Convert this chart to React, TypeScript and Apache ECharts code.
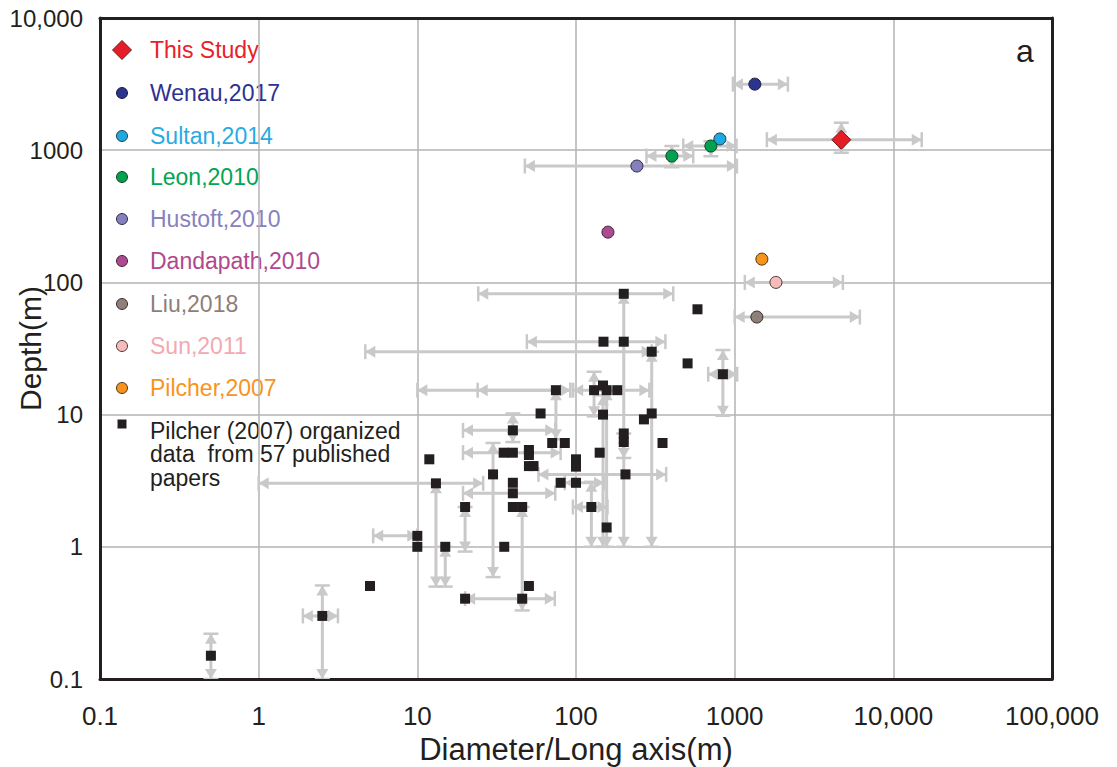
import React, { useEffect, useRef } from 'react';
import * as echarts from 'echarts';

// ---------- tick labels ----------
const xTickLabels = ['0.1', '1', '10', '100', '1000', '10,000', '100,000'];
const yTickLabels = ['0.1', '1', '10', '100', '1000', '10,000'];

// ---------- data: [diameter (m), depth (m)] ----------
const thisStudy = [[4700, 1200]];
const wenau2017 = [[1340, 3160]];
const sultan2014 = [[807, 1216]];
const leon2010 = [[708, 1076], [402, 904]];
const hustoft2010 = [[242, 759]];
const dandapath2010 = [[159, 240]];
const liu2018 = [[1380, 54.7]];
const sun2011 = [[1820, 100]];
const pilcher2007 = [[1484, 150]];
const pilcherCompiled = [
  [0.5, 0.15], [2.52, 0.3], [5.03, 0.505], [10, 1.0], [10, 1.21], [15, 1.0],
  [11.9, 4.59], [13.1, 3.02], [20, 2.0], [20, 0.405], [30, 3.53], [35.3, 1.0],
  [35, 5.15], [40, 5.15], [40, 7.6], [40, 3.05], [40, 2.54], [40, 2.0],
  [45.8, 2.0], [45.8, 0.405], [50.5, 0.505], [50.5, 5.4], [50.5, 4.95], [50.5, 4.08],
  [54, 4.08], [59.8, 10.2], [70.8, 6.1], [85, 6.1], [80, 3.05], [100, 3.05],
  [100, 4.59], [100, 4.04], [74.7, 15.3], [125, 2.0], [141, 5.15], [148, 10.0],
  [156, 1.4], [130, 15.3], [148, 16.6], [156, 15.3], [182, 15.3], [149, 35.6],
  [200, 35.6], [200, 82], [200, 7.2], [200, 6.2], [205, 3.53], [268, 9.2],
  [300, 10.2], [300, 29.9], [351, 6.1], [505, 24.4], [583, 62.6], [843, 20.2],
];

// ---------- error bars ----------
// horizontal: [depth, diameterLow, diameterHigh]
const xErrorBars = [
  [0.3, 1.9, 3.16], [1.21, 5.27, 10], [3.02, 1.0, 26], [0.405, 20, 73.5],
  [2.54, 19.4, 74], [7.6, 19.4, 74], [5.15, 19.4, 80], [15.3, 10, 92],
  [15.3, 24, 92], [15.3, 96, 290], [35.6, 49, 366], [29.9, 4.7, 300],
  [82, 24.2, 410], [3.53, 58, 370], [2.0, 95.6, 158], [3.05, 85, 150],
  [20.2, 681, 1037],
  [1200, 1596, 15100], [3160, 975, 2165], [904, 278, 548], [1076, 474, 1027],
  [759, 47.6, 1033], [100, 1159, 4808], [54.7, 1000, 6150],
];
// vertical: [diameter, depthLow, depthHigh]
const yErrorBars = [
  [0.5, 0.1, 0.22], [2.52, 0.1, 0.51], [13.1, 0.5, 3.02], [15, 0.5, 1.0],
  [20, 0.92, 2.0], [30, 0.59, 6.1], [40, 6.2, 10.2], [45.8, 0.33, 2.0],
  [74.7, 6.5, 15.3], [130, 9.7, 21.1], [125, 1.0, 3.1], [148, 1.0, 14],
  [156, 1.0, 15.3], [200, 1.0, 82], [200, 4.7, 7.2], [300, 1.0, 29.9],
  [843, 9.8, 30.8],
  [4700, 957, 1614], [708, 900, 1170], [402, 743, 1076],
];

const PILCHER_NAME = 'Pilcher (2007) organized data from 57 published papers';
const PILCHER_LINES = ['Pilcher (2007) organized', 'data  from 57 published', 'papers'];
const BAR_COLOR = '#c9c9c9';
const INK = '#231f20';

function makeBarRenderer(horizontal: boolean) {
  return (_params: any, api: any) => {
    const a = api.value(0);
    const lo = api.value(1);
    const hi = api.value(2);
    const p1 = horizontal ? api.coord([lo, a]) : api.coord([a, lo]);
    const p2 = horizontal ? api.coord([hi, a]) : api.coord([a, hi]);
    const dx = p2[0] - p1[0];
    const dy = p2[1] - p1[1];
    const len = Math.hypot(dx, dy) || 1;
    const ux = dx / len;
    const uy = dy / len;
    const nx = -uy;
    const ny = ux;
    const L = 10;
    const W = 6;
    const C = 7.5;
    const tri = (tip: number[], dir: number) => [
      [tip[0], tip[1]],
      [tip[0] - dir * ux * L + nx * W, tip[1] - dir * uy * L + ny * W],
      [tip[0] - dir * ux * L - nx * W, tip[1] - dir * uy * L - ny * W],
    ];
    const cap = (p: number[]) => ({
      type: 'line',
      shape: { x1: p[0] + nx * C, y1: p[1] + ny * C, x2: p[0] - nx * C, y2: p[1] - ny * C },
      style: { stroke: BAR_COLOR, lineWidth: 2.5 },
    });
    return {
      type: 'group',
      children: [
        {
          type: 'line',
          shape: { x1: p1[0], y1: p1[1], x2: p2[0], y2: p2[1] },
          style: { stroke: BAR_COLOR, lineWidth: 3 },
        },
        { type: 'polygon', shape: { points: tri(p2, 1) }, style: { fill: BAR_COLOR } },
        { type: 'polygon', shape: { points: tri(p1, -1) }, style: { fill: BAR_COLOR } },
        cap(p1),
        cap(p2),
      ],
    };
  };
}

const seriesDefs = [
  { name: 'This Study', data: thisStudy, symbol: 'diamond', size: 19, color: '#e31e26', border: '#6d1a1c', text: '#e8212a', legendSize: 19 },
  { name: 'Wenau,2017', data: wenau2017, symbol: 'circle', size: 12, color: '#2b3590', border: '#1a1a40', text: '#2e3192', legendSize: 11 },
  { name: 'Sultan,2014', data: sultan2014, symbol: 'circle', size: 12, color: '#1fa9e1', border: '#1a3a4a', text: '#29abe2', legendSize: 11 },
  { name: 'Leon,2010', data: leon2010, symbol: 'circle', size: 12, color: '#00a24f', border: '#1a3a25', text: '#00a651', legendSize: 11 },
  { name: 'Hustoft,2010', data: hustoft2010, symbol: 'circle', size: 12, color: '#8480bd', border: '#2a2a40', text: '#8781bd', legendSize: 11 },
  { name: 'Dandapath,2010', data: dandapath2010, symbol: 'circle', size: 12, color: '#ad4b8f', border: '#40203a', text: '#b0498e', legendSize: 11 },
  { name: 'Liu,2018', data: liu2018, symbol: 'circle', size: 12, color: '#8e7f78', border: '#332a28', text: '#8c7f79', legendSize: 11 },
  { name: 'Sun,2011', data: sun2011, symbol: 'circle', size: 12, color: '#f6bcbc', border: '#4a3535', text: '#f2a9b1', legendSize: 11 },
  { name: 'Pilcher,2007', data: pilcher2007, symbol: 'circle', size: 12, color: '#f7941d', border: '#4a3010', text: '#f7941d', legendSize: 11 },
  { name: PILCHER_NAME, data: pilcherCompiled, symbol: 'rect', size: 10, color: INK, border: INK, text: INK, legendSize: 9 },
];

const legendRowsY = [50, 93, 136, 177, 219, 261, 304, 346, 388, 424];
const LEGEND_ICON_X = 122;
const LEGEND_TEXT_X = 150;

const FONT = 'Arial, "Liberation Sans", Helvetica, sans-serif';

function labelIndex(v: number) {
  return Math.round(Math.log10(v));
}

function legendGraphics() {
  const els: any[] = [];
  seriesDefs.forEach((s, i) => {
    const cy = legendRowsY[i];
    const h = s.legendSize / 2;
    if (s.symbol === 'diamond') {
      els.push({
        type: 'polygon',
        shape: {
          points: [
            [LEGEND_ICON_X, cy - h],
            [LEGEND_ICON_X + h, cy],
            [LEGEND_ICON_X, cy + h],
            [LEGEND_ICON_X - h, cy],
          ],
        },
        style: { fill: s.color, stroke: s.border, lineWidth: 1 },
      });
    } else if (s.symbol === 'rect') {
      els.push({
        type: 'rect',
        shape: { x: LEGEND_ICON_X - h, y: cy - h, width: 2 * h, height: 2 * h },
        style: { fill: s.color },
      });
    } else {
      els.push({
        type: 'circle',
        shape: { cx: LEGEND_ICON_X, cy, r: h },
        style: { fill: s.color, stroke: s.border, lineWidth: 1 },
      });
    }
    if (s.name === PILCHER_NAME) {
      els.push({
        type: 'text',
        x: LEGEND_TEXT_X,
        y: 419,
        style: {
          text: PILCHER_LINES.join('\n'),
          fill: s.text,
          fontSize: 23,
          fontFamily: FONT,
          lineHeight: 23.5,
          verticalAlign: 'top',
          align: 'left',
        },
      });
    } else {
      els.push({
        type: 'text',
        x: LEGEND_TEXT_X,
        y: cy,
        style: {
          text: s.name,
          fill: s.text,
          fontSize: 23,
          fontFamily: FONT,
          verticalAlign: 'middle',
          align: 'left',
        },
      });
    }
  });
  return els;
}

export default function App() {
  const ref = useRef<HTMLDivElement>(null);
  useEffect(() => {
    if (!ref.current) return;
    const chart = echarts.init(ref.current, undefined, { renderer: 'svg' });

    const scatterSeries = seriesDefs.map((s) => ({
      type: 'scatter',
      name: s.name,
      data: s.data,
      symbol: s.symbol,
      symbolSize: s.size,
      z: 5,
      itemStyle: {
        color: s.color,
        borderColor: s.border,
        borderWidth: s.symbol === 'rect' ? 0 : 1,
        opacity: 1,
      },
      emphasis: { disabled: true },
    }));

    const option: any = {
      animation: false,
      backgroundColor: '#ffffff',
      title: {
        text: 'a',
        left: 1011,
        top: 30,
        textStyle: { fontFamily: FONT, fontSize: 32, fontWeight: 'normal', color: INK },
      },
      graphic: legendGraphics(),
      grid: { left: 100, right: 65, top: 18, bottom: 88, containLabel: false, outerBoundsMode: 'none' },
      xAxis: [
        {
          type: 'log',
          logBase: 10,
          min: 0.1,
          max: 100000,
          name: 'Diameter/Long axis(m)',
          nameLocation: 'middle',
          nameGap: 55,
          nameMoveOverlap: false,
          nameTextStyle: { fontFamily: FONT, fontSize: 31, color: INK },
          axisLine: { show: true, onZero: false, lineStyle: { color: INK, width: 3 } },
          axisTick: { show: false },
          minorTick: { show: false },
          axisLabel: {
            margin: 24,
            fontFamily: FONT,
            fontSize: 26,
            color: INK,
            showMinLabel: true,
            showMaxLabel: true,
            formatter: (v: number) => xTickLabels[labelIndex(v) + 1] ?? '',
          },
          splitLine: { show: true, lineStyle: { color: '#b3b3b3', width: 1.5 } },
        },
        {
          type: 'log',
          logBase: 10,
          min: 0.1,
          max: 100000,
          position: 'top',
          axisLine: { show: true, onZero: false, lineStyle: { color: INK, width: 3 } },
          axisTick: { show: false },
          axisLabel: { show: false },
          splitLine: { show: false },
        },
      ],
      yAxis: [
        {
          type: 'log',
          logBase: 10,
          min: 0.1,
          max: 10000,
          name: 'Depth(m)',
          nameLocation: 'middle',
          nameGap: 55,
          nameMoveOverlap: false,
          nameTextStyle: { fontFamily: FONT, fontSize: 30, color: INK },
          axisLine: { show: true, onZero: false, lineStyle: { color: INK, width: 3 } },
          axisTick: { show: false },
          axisLabel: {
            margin: 17,
            fontFamily: FONT,
            fontSize: 24,
            color: INK,
            showMinLabel: true,
            showMaxLabel: true,
            formatter: (v: number) => yTickLabels[labelIndex(v) + 1] ?? '',
          },
          splitLine: { show: true, lineStyle: { color: '#b3b3b3', width: 1.5 } },
        },
        {
          type: 'log',
          logBase: 10,
          min: 0.1,
          max: 10000,
          position: 'right',
          axisLine: { show: true, onZero: false, lineStyle: { color: INK, width: 3 } },
          axisTick: { show: false },
          axisLabel: { show: false },
          splitLine: { show: false },
        },
      ],
      series: [
        {
          type: 'custom',
          name: 'xErrorBars',
          data: xErrorBars,
          encode: { x: [1, 2], y: 0 },
          renderItem: makeBarRenderer(true),
          silent: true,
          clip: true,
          z: 2,
        },
        {
          type: 'custom',
          name: 'yErrorBars',
          data: yErrorBars,
          encode: { x: 0, y: [1, 2] },
          renderItem: makeBarRenderer(false),
          silent: true,
          clip: true,
          z: 2,
        },
        ...scatterSeries,
      ],
    };
    chart.setOption(option);
    return () => chart.dispose();
  }, []);

  return (
    <div
      ref={ref}
      style={{ position: 'absolute', left: 0, top: 0, width: 1117, height: 767, background: '#fff' }}
    />
  );
}
